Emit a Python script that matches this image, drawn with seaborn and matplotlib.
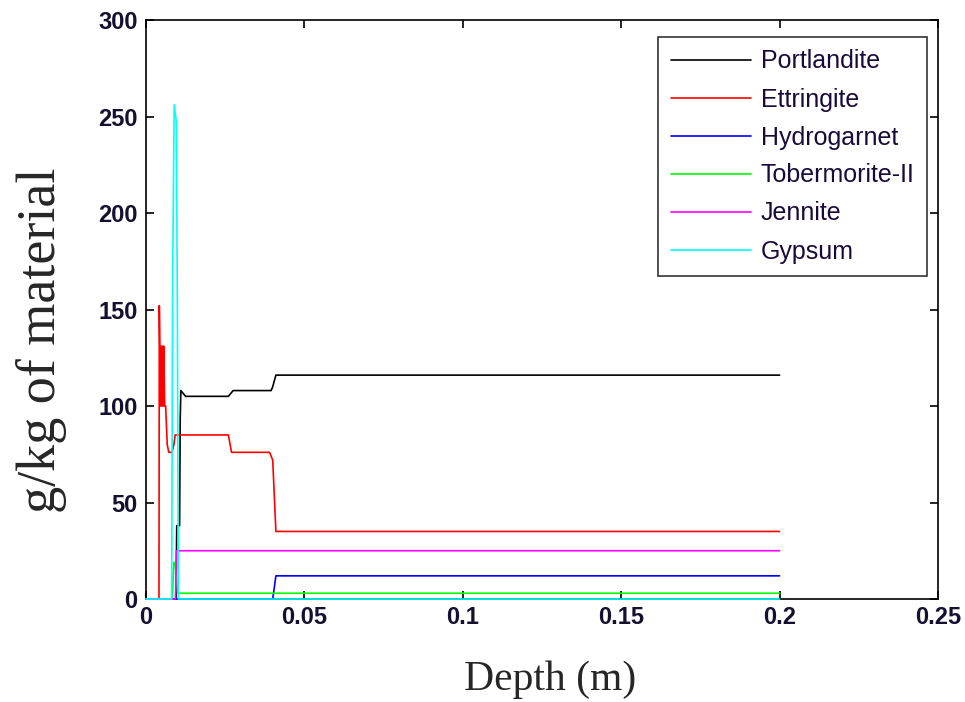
import numpy as np
import pandas as pd
import matplotlib
matplotlib.use("Agg")
import matplotlib.pyplot as plt
import seaborn as sns
from matplotlib.ticker import FixedLocator, FuncFormatter

# ---- data ----
names = ["Portlandite", "Ettringite", "Hydrogarnet", "Tobermorite-II", "Jennite", "Gypsum"]
colors = ["#000000", "#ff0000", "#0000ff", "#00ff00", "#ff00ff", "#00ffff"]

portlandite_x = [0.0, 0.0095, 0.0097, 0.0106, 0.0108, 0.0110, 0.0125, 0.0260, 0.0275, 0.0395, 0.0400, 0.0410, 0.2]
portlandite_y = [0, 0, 38, 38, 93, 108, 105, 105, 108, 108, 110, 116, 116]

ettringite_x = [0.0, 0.0041, 0.0042, 0.0046, 0.0048, 0.0050, 0.0052, 0.0054, 0.0056, 0.0059, 0.0062, 0.0067, 0.0072,
                0.0082, 0.0088, 0.0092, 0.0260, 0.0270, 0.0390, 0.0400, 0.0410, 0.2]
ettringite_y = [0, 0, 152, 100, 131, 100, 131, 100, 131, 100, 100, 80, 76,
                76, 80, 85, 85, 76, 76, 72, 35, 35]

hydrogarnet_x = [0.0, 0.0400, 0.0410, 0.2]
hydrogarnet_y = [0, 0, 12, 12]

tobermorite_x = [0.0, 0.0083, 0.0088, 0.0092, 0.0100, 0.2]
tobermorite_y = [0, 0, 19, 19, 3, 3]

jennite_x = [0.0, 0.0093, 0.0096, 0.2]
jennite_y = [0, 0, 25, 25]

gypsum_x = [0.0, 0.0081, 0.0084, 0.0089, 0.0096, 0.0099, 0.0102, 0.2]
gypsum_y = [0, 0, 165, 256, 247, 150, 0, 0]

xticks = [0, 0.05, 0.1, 0.15, 0.2, 0.25]
yticks = [0, 50, 100, 150, 200, 250, 300]
xlabel = "Depth (m)"
ylabel = "g/kg of material"

series_x = [portlandite_x, ettringite_x, hydrogarnet_x, tobermorite_x, jennite_x, gypsum_x]
series_y = [portlandite_y, ettringite_y, hydrogarnet_y, tobermorite_y, jennite_y, gypsum_y]

# ---- plot ----
sns.set_style("ticks")
plt.rcParams["font.family"] = ["Liberation Sans", "DejaVu Sans"]

fig = plt.figure(figsize=(9.65, 7.02), dpi=100)
ax = fig.add_axes([146 / 965, 1 - 599 / 702, (938 - 146) / 965, (599 - 20) / 702])

for name, c, xs, ys in zip(names, colors, series_x, series_y):
    df = pd.DataFrame({"x": xs, "y": ys})
    sns.lineplot(data=df, x="x", y="y", ax=ax, color=c, label=name,
                 sort=False, estimator=None, linewidth=1.2)

for ln in ax.get_lines():
    ln.set_clip_on(False)
    ln.set_zorder(3)

ax.set_xlim(0, 0.25)
ax.set_ylim(0, 300)
ax.xaxis.set_major_locator(FixedLocator(xticks))
ax.yaxis.set_major_locator(FixedLocator(yticks))
ax.xaxis.set_major_formatter(FuncFormatter(lambda v, p: f"{v:g}"))
ax.yaxis.set_major_formatter(FuncFormatter(lambda v, p: f"{v:g}"))

ax.tick_params(direction="in", length=6, width=1.2, color="black",
               top=True, right=True, labelsize=17, labelcolor="#151030")
ax.tick_params(axis="y", pad=6)
ax.tick_params(axis="x", pad=5)
for lab in ax.get_xticklabels() + ax.get_yticklabels():
    lab.set_fontweight("bold")

for s in ax.spines.values():
    s.set_visible(True)
    s.set_color("black")
    s.set_linewidth(1.2)

ax.set_xlabel(xlabel, fontsize=30, family=["Liberation Serif", "DejaVu Serif"])
ax.set_ylabel(ylabel, fontsize=39, family=["Liberation Serif", "DejaVu Serif"])
ax.xaxis.set_label_coords((550 - 146) / 792, (599 - 660) / 579)
ax.yaxis.set_label_coords((67 - 146) / 792, (599 - 340) / 579)

leg = ax.legend(loc="upper right", bbox_to_anchor=(927 / 965, 1 - 37 / 702),
                bbox_transform=fig.transFigure, borderaxespad=0,
                fontsize=18, frameon=True, fancybox=False, edgecolor="black",
                handlelength=3.2, handletextpad=0.4, labelspacing=0.56,
                borderpad=0.5)
leg.get_frame().set_linewidth(1.2)
for t in leg.get_texts():
    t.set_color("#1a0a3a")

fig.savefig("out.png", dpi=100, facecolor="white")
